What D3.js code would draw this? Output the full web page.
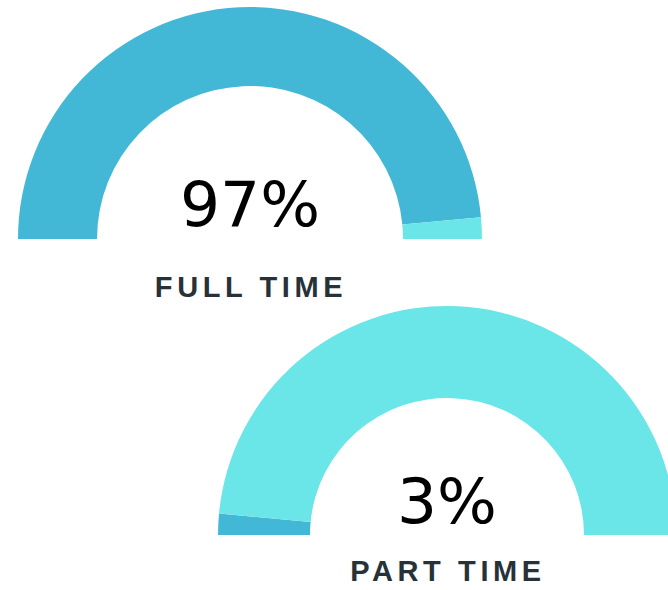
<!DOCTYPE html>
<html>
<head>
<meta charset="utf-8">
<script src="https://cdn.jsdelivr.net/npm/d3@7"></script>
<style>
  body { margin: 0; background: #fff; }
  svg { display: block; }
</style>
</head>
<body>
<svg></svg>
<script>
const labels = ["FULL TIME", "PART TIME"];
const values = [97, 3];

const svgWidth = 668, svgHeight = 590;

const valueColor = "#43b8d6";
const restColor = "#6ae5e8";

// gauge placement (center / radii) per gauge
const layout = [
  { cx: 250, cy: 239, outer: 232, inner: 153, numY: 226, labelY: 297 },
  { cx: 447, cy: 535, outer: 229, inner: 137, numY: 523, labelY: 581 }
];

const svg = d3.select("svg")
  .attr("width", svgWidth)
  .attr("height", svgHeight);

const pie = d3.pie()
  .sort(null)
  .value(d => d)
  .startAngle(-Math.PI / 2)
  .endAngle(Math.PI / 2);

labels.forEach((label, i) => {
  const pos = layout[i];
  const g = svg.append("g")
    .attr("transform", `translate(${pos.cx}, ${pos.cy})`);

  const arc = d3.arc()
    .innerRadius(pos.inner)
    .outerRadius(pos.outer);

  g.selectAll("path")
    .data(pie([values[i], 100 - values[i]]))
    .enter()
    .append("path")
    .attr("d", arc)
    .attr("fill", (d, j) => j === 0 ? valueColor : restColor);

  g.append("text")
    .attr("x", 0)
    .attr("y", pos.numY - pos.cy)
    .attr("text-anchor", "middle")
    .attr("font-family", "'DejaVu Sans', sans-serif")
    .attr("font-size", "63px")
    .attr("fill", "#000")
    .text(values[i] + "%");

  g.append("text")
    .attr("x", 1)
    .attr("y", pos.labelY - pos.cy)
    .attr("text-anchor", "middle")
    .attr("font-family", "'Liberation Sans', Arial, sans-serif")
    .attr("font-weight", "bold")
    .attr("font-size", "29px")
    .attr("letter-spacing", "4.6px")
    .attr("fill", "#263238")
    .text(label);
});
</script>
</body>
</html>
